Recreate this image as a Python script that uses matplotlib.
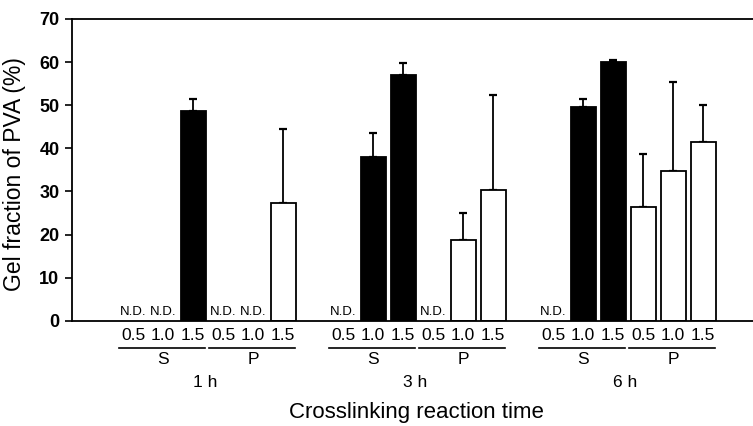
import numpy as np
import matplotlib.pyplot as plt

plt.rcParams['font.family'] = ['Liberation Sans', 'DejaVu Sans']

# data (None = N.D.)
times = ['1 h', '3 h', '6 h']
concs = ['0.5', '1.0', '1.5']
s_mean = [[None, None, 48.7], [None, 37.9, 57.1], [None, 49.5, 60.1]]
s_err = [[0, 0, 2.7], [0, 5.7, 2.6], [0, 2.0, 0.3]]
p_mean = [[None, None, 27.4], [None, 18.7, 30.3], [26.3, 34.8, 41.5]]
p_err = [[0, 0, 17.0], [0, 6.2, 22.1], [12.5, 20.5, 8.6]]

fig = plt.figure(figsize=(7.53, 4.26), dpi=100)
ax = fig.add_axes([0.0956, 0.2469, 0.9044, 0.7085])
trans = ax.get_xaxis_transform()

width = 0.83
for g, t in enumerate(times):
    base = g * 7
    for means, errs, color, lab, off in [(s_mean, s_err, 'black', 'S', 0),
                                         (p_mean, p_err, 'white', 'P', 3)]:
        for i in range(3):
            x = base + off + i
            m = means[g][i]
            if m is None:
                ax.text(x, 2.0, 'N.D.', ha='center', va='center', fontsize=9.5)
            else:
                ax.bar(x, m, width=width, color=color, edgecolor='black', linewidth=1.3, zorder=2)
                ax.errorbar(x, m, yerr=[[0], [errs[g][i]]], fmt='none', ecolor='black',
                            elinewidth=1.3, capsize=3, capthick=1.6, zorder=1)
            ax.text(x, -0.047, concs[i], transform=trans, ha='center', va='center', fontsize=12.5)
        x0 = base + off
        ax.plot([x0 - 0.46, x0 + 2.38], [-0.091, -0.091], transform=trans, color='black',
                linewidth=1.2, clip_on=False)
        ax.text(x0 + 1, -0.1266, lab, transform=trans, ha='center', va='center', fontsize=12.5)
    ax.text(base + 2.4, -0.206, t, transform=trans, ha='center', va='center', fontsize=12.5)

ax.text(9.45, -0.305, 'Crosslinking reaction time', transform=trans, ha='center',
        va='center', fontsize=16)
ax.set_ylabel('Gel fraction of PVA (%)', fontsize=16.5)
ax.yaxis.set_label_coords(-0.068, 0.485)

ax.set_xlim(-2.04, 20.66)
ax.set_ylim(0, 70)
ax.set_yticks(range(0, 71, 10))
ax.set_yticklabels([str(v) for v in range(0, 71, 10)], fontsize=13, fontweight='bold')
ax.set_xticks([])
ax.tick_params(axis='y', direction='out', length=5, width=1.2, pad=4)
ax.spines['right'].set_visible(False)
for s in ['left', 'top', 'bottom']:
    ax.spines[s].set_linewidth(1.3)

fig.savefig('out.png', dpi=100)
